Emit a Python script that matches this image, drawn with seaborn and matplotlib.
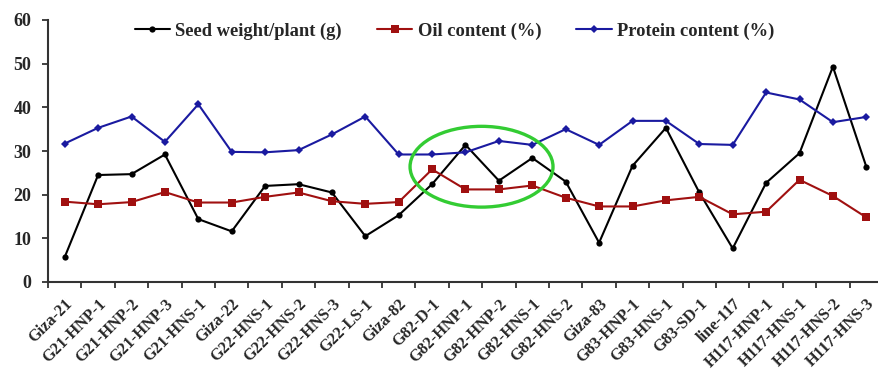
import numpy as np
import pandas as pd
import matplotlib
matplotlib.use("Agg")
import matplotlib.pyplot as plt
import matplotlib.transforms as mtransforms
from matplotlib.patches import Ellipse
import seaborn as sns

genotypes = ["Giza-21", "G21-HNP-1", "G21-HNP-2", "G21-HNP-3", "G21-HNS-1",
             "Giza-22", "G22-HNS-1", "G22-HNS-2", "G22-HNS-3", "G22-LS-1",
             "Giza-82", "G82-D-1", "G82-HNP-1", "G82-HNP-2", "G82-HNS-1",
             "G82-HNS-2", "Giza-83", "G83-HNP-1", "G83-HNS-1", "G83-SD-1",
             "line-117", "H117-HNP-1", "H117-HNS-1", "H117-HNS-2", "H117-HNS-3"]

seed_weight = [5.7, 24.5, 24.7, 29.2, 14.4, 11.6, 22.0, 22.4, 20.5, 10.5,
               15.3, 22.4, 31.4, 23.2, 28.4, 23.0, 9.0, 26.6, 35.3, 20.5,
               7.7, 22.7, 29.5, 49.3, 26.4]
oil_content = [18.4, 17.8, 18.3, 20.6, 18.2, 18.2, 19.5, 20.5, 18.5, 17.9,
               18.3, 25.8, 21.2, 21.2, 22.1, 19.3, 17.3, 17.3, 18.7, 19.5,
               15.5, 16.1, 23.4, 19.7, 14.8]
protein_content = [31.7, 35.3, 37.9, 32.1, 40.7, 29.8, 29.7, 30.2, 33.8, 37.9,
                   29.2, 29.2, 29.7, 32.3, 31.4, 35.0, 31.4, 36.9, 36.9, 31.6,
                   31.4, 43.4, 41.8, 36.6, 37.8]

y_ticks = [0, 10, 20, 30, 40, 50, 60]

sns.set_style("white")
plt.rcParams["font.family"] = ["Liberation Serif", "DejaVu Serif"]
plt.rcParams["font.weight"] = "bold"

pos = np.arange(len(genotypes))
df = pd.DataFrame({"pos": pos, "seed": seed_weight,
                   "oil": oil_content, "protein": protein_content})

fig = plt.figure(figsize=(8.79, 3.73), dpi=100)
ax = fig.add_axes([48 / 879, 1 - 282 / 373, 835 / 879, 262 / 373])

sns.lineplot(data=df, x="pos", y="seed", ax=ax, color="black", lw=1.5,
             marker="o", markersize=4.5, markeredgewidth=0,
             label="Seed weight/plant (g)", sort=False)
sns.lineplot(data=df, x="pos", y="oil", ax=ax, color="#a01010", lw=1.5,
             marker="s", markersize=6, markeredgewidth=0,
             label="Oil content (%)", sort=False)
sns.lineplot(data=df, x="pos", y="protein", ax=ax, color="#1a1aa0", lw=1.5,
             marker="D", markersize=4, markeredgewidth=0,
             label="Protein content (%)", sort=False)

# highlight ring around the G82 group
ax.add_patch(Ellipse((12.48, 26.4), 4.28, 18.5, fill=False,
                     edgecolor="#33cc33", lw=2.4, zorder=5))

ax.set_xlim(-0.5, len(genotypes) - 0.5)
ax.set_ylim(0, 60)
ax.set_yticks(y_ticks)
ax.set_yticklabels([str(v) for v in y_ticks], fontsize=13, fontweight="bold")
ax.set_xticks(pos)
ax.set_xticklabels(genotypes, rotation=45, ha="right", rotation_mode="anchor",
                   fontsize=11.8, fontweight="bold")
shift = mtransforms.ScaledTranslation(3 / 100, 0, fig.dpi_scale_trans)
for lab in ax.get_xticklabels():
    lab.set_transform(lab.get_transform() + shift)
ax.set_xticks(np.arange(-0.5, len(genotypes), 1.0), minor=True)
ax.tick_params(axis="x", which="major", length=0, pad=10)
ax.tick_params(axis="x", which="minor", length=4, width=1.3, color="#333333",
               direction="out", bottom=True)
ax.tick_params(axis="y", length=4, width=1.3, color="#333333",
               direction="out", left=True, pad=8)
ax.set_xlabel("")
ax.set_ylabel("")

for side in ("top", "right"):
    ax.spines[side].set_visible(False)
for side in ("left", "bottom"):
    ax.spines[side].set_color("#333333")
    ax.spines[side].set_linewidth(1.5)

ax.legend(loc="upper center", bbox_to_anchor=(0.487, 1.055), ncol=3,
          frameon=False, prop={"size": 13.3, "weight": "bold"},
          handlelength=1.9, columnspacing=1.9, handletextpad=0.3)

fig.savefig("out.png", dpi=100)
